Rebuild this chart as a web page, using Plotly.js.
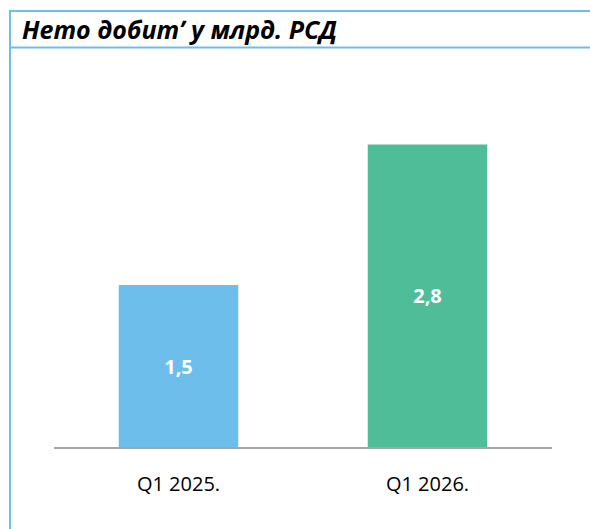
<!DOCTYPE html>
<html>
<head>
<meta charset="utf-8">
<script src="https://cdn.plot.ly/plotly-3.0.1.min.js"></script>
<style>html,body{margin:0;padding:0;background:#fff;overflow:hidden;}#chart{width:590px;height:529px;}</style>
</head>
<body>
<div id="chart"></div>
<script>
var categories = ['Q1 2025.', 'Q1 2026.'];
var values = [1.5, 2.8];
var valueLabels = ['1,5', '2,8'];
var barColors = ['#6DBEEB', '#4FBE98'];
var chartTitle = 'Нето добит\u02BC у млрд. РСД';

var W = 590, H = 529;
var mL = 54, mR = 38, mT = 69, mB = 82;
var pw = W - mL - mR, ph = H - mT - mB;
function px(x){ return (x - mL) / pw; }
function py(y){ return (H - mB - y) / ph; }
var borderColor = '#6DBEEB';

var trace = {
  type: 'bar',
  x: categories,
  y: values,
  text: valueLabels,
  textposition: 'inside',
  insidetextanchor: 'middle',
  textangle: 0,
  textfont: {family: 'Open Sans', size: 20, color: '#ffffff', weight: 'bold'},
  marker: {color: barColors, line: {width: 0}},
  hoverinfo: 'none'
};

var layout = {
  width: W, height: H,
  margin: {l: mL, r: mR, t: mT, b: mB, pad: 0},
  paper_bgcolor: '#ffffff',
  plot_bgcolor: '#ffffff',
  showlegend: false,
  bargap: 0.52,
  title: {
    text: chartTitle,
    xref: 'container', yref: 'container',
    x: 22 / W, xanchor: 'left',
    y: 1 - 30 / H, yanchor: 'middle',
    font: {family: 'Open Sans', size: 25, color: '#000000', weight: 'bold', style: 'italic'}
  },
  xaxis: {
    type: 'category',
    range: [-0.5, 1.5],
    showgrid: false,
    zeroline: false,
    showline: true,
    linecolor: '#A6A6A6',
    linewidth: 2,
    ticks: '',
    ticklabelstandoff: 18,
    tickfont: {family: 'Open Sans', size: 20, color: '#000000'},
    fixedrange: true
  },
  yaxis: {
    range: [0, 3.5],
    visible: false,
    showgrid: false,
    zeroline: false,
    fixedrange: true
  },
  shapes: [
    {type: 'line', xref: 'paper', yref: 'paper', x0: px(10), x1: px(10), y0: py(10), y1: py(560), line: {color: borderColor, width: 2}},
    {type: 'line', xref: 'paper', yref: 'paper', x0: px(9), x1: px(660), y0: py(11), y1: py(11), line: {color: borderColor, width: 2}},
    {type: 'line', xref: 'paper', yref: 'paper', x0: px(9), x1: px(660), y0: py(47.5), y1: py(47.5), line: {color: borderColor, width: 2}}
  ]
};

Plotly.newPlot('chart', [trace], layout, {displayModeBar: false, staticPlot: true});
</script>
</body>
</html>
